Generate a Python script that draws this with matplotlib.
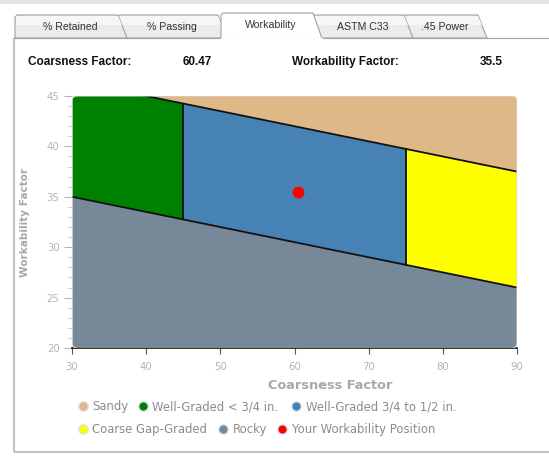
import matplotlib
matplotlib.use("Agg")
import matplotlib.pyplot as plt
from matplotlib.patches import Polygon, FancyBboxPatch, Rectangle
from matplotlib.ticker import MultipleLocator

# ---- data -------------------------------------------------------------
coarseness = [30, 45, 75, 90]                   # coarseness factor break points
upper_limit = [46.5, 44.25, 39.75, 37.5]        # sandy / well-graded boundary
lower_limit = [35.0, 32.75, 28.25, 26.0]        # well-graded / rocky boundary

zone_names = ["Sandy", "Well-Graded < 3/4 in.", "Well-Graded 3/4 to 1/2 in.",
              "Coarse Gap-Graded", "Rocky", "Your Workability Position"]
zone_colors = ["#DEB887", "#008000", "#4682B4", "#FFFF00", "#778899", "#FF0000"]

position_cf = 60.47
position_wf = 35.5

tab_labels = ["% Retained", "% Passing", "Workability", "ASTM C33", ".45 Power"]
active_tab = "Workability"

x_ticks = [30, 40, 50, 60, 70, 80, 90]
y_ticks = [20, 25, 30, 35, 40, 45]

# ---- figure -----------------------------------------------------------
W, H = 549, 459
fig = plt.figure(figsize=(W / 100, H / 100), dpi=100)
fig.patch.set_facecolor("white")

# page layer in pixel coordinates
ui = fig.add_axes([0, 0, 1, 1], zorder=0)
ui.set_xlim(0, W)
ui.set_ylim(H, 0)
ui.axis("off")

# faint strip along the top
ui.add_patch(Rectangle((0, 0), W, 4, facecolor="#e4e4e4", edgecolor="none"))

# panel border
border = "#c4c4c4"
ui.plot([14, 14], [38, 452], color=border, lw=1.6, solid_capstyle="butt")
ui.plot([14, W], [452, 452], color=border, lw=1.6, solid_capstyle="butt")
ui.plot([14, W], [38, 38], color="#a8a8a8", lw=0.9)

# tabs: (left, right) at the top edge
tab_spans = [(15, 118), (118, 218), (221, 313), (313, 404), (404, 478)]
tab_items = list(zip(tab_labels, tab_spans))
for label, (l, r) in reversed(tab_items):
    if label == active_tab:
        continue
    top, bot = 15, 38
    pts = [(l, bot), (l, top + 2), (l + 2, top), (r, top), (r + 9, bot)]
    ui.add_patch(Polygon(pts, closed=True, facecolor="#ebebeb",
                         edgecolor="#a0a0a0", lw=0.8, zorder=2))
    ui.add_patch(Polygon([(l + 1, top + 1), (r, top + 1), (r + 4, top + 10), (l + 1, top + 10)],
                         closed=True, facecolor="#f6f6f6", edgecolor="none", zorder=2))
    ui.text((l + r + 8) / 2, 26.5, label, ha="center", va="center",
            fontsize=7.6, family="Liberation Sans", color="#333333", zorder=3)
for label, (l, r) in tab_items:
    if label != active_tab:
        continue
    top, bot = 13, 38.5
    pts = [(l, bot), (l, top + 2), (l + 2, top), (r, top), (r + 9, bot)]
    ui.add_patch(Polygon(pts, closed=True, facecolor="white",
                         edgecolor="#a0a0a0", lw=0.8, zorder=4))
    ui.plot([l + 0.6, r + 8.5], [38.6, 38.6], color="white", lw=1.6, zorder=5)
    ui.text((l + r + 8) / 2, 25.5, label, ha="center", va="center",
            fontsize=7.6, family="Liberation Sans", color="#333333", zorder=6)

# summary row
info_kw = dict(fontsize=8.5, family="Liberation Sans", fontweight="bold",
               color="#111111", va="center")
ui.text(28, 62, "Coarsness Factor:", **info_kw)
ui.text(183, 62, f"{position_cf:.2f}", **info_kw)
ui.text(292, 62, "Workability Factor:", **info_kw)
ui.text(480, 62, f"{position_wf:g}", **info_kw)

# ---- chart ------------------------------------------------------------
x0, x1, y0, y1 = 72, 517, 96, 348
ax = fig.add_axes([x0 / W, 1 - y1 / H, (x1 - x0) / W, (y1 - y0) / H], zorder=2)
ax.set_facecolor("none")
ax.set_xlim(30, 90)
ax.set_ylim(20, 45)

clip = FancyBboxPatch((0, 0), 1, 1, boxstyle="round,pad=0,rounding_size=0.012",
                      transform=ax.transAxes, mutation_aspect=(x1 - x0) / (y1 - y0),
                      facecolor="none", edgecolor="#d2d2d2", lw=0.8, zorder=5)
ax.add_patch(clip)

fills = [
    ax.fill_between(coarseness, upper_limit, 60, color=zone_colors[0], lw=0),
    ax.fill_between(coarseness[0:2], lower_limit[0:2], upper_limit[0:2], color=zone_colors[1], lw=0),
    ax.fill_between(coarseness[1:3], lower_limit[1:3], upper_limit[1:3], color=zone_colors[2], lw=0),
    ax.fill_between(coarseness[2:4], lower_limit[2:4], upper_limit[2:4], color=zone_colors[3], lw=0),
    ax.fill_between(coarseness, 0, lower_limit, color=zone_colors[4], lw=0),
]
for f in fills:
    f.set_clip_path(clip)

edge_kw = dict(color="#111111", lw=1.3, zorder=3)
ax.plot(coarseness, upper_limit, **edge_kw)
ax.plot(coarseness, lower_limit, **edge_kw)
for i in (1, 2):
    ax.plot([coarseness[i], coarseness[i]], [lower_limit[i], upper_limit[i]], **edge_kw)

ax.plot(position_cf, position_wf, "o", color=zone_colors[5], ms=8.5, mec="none", zorder=6)

for s in ("top", "right", "left"):
    ax.spines[s].set_visible(False)
ax.spines["bottom"].set_color("#111111")
ax.spines["bottom"].set_linewidth(1.2)

ax.set_xticks(x_ticks)
ax.set_yticks(y_ticks)
ax.yaxis.set_minor_locator(MultipleLocator(1))
ax.tick_params(axis="x", colors="#555555", labelcolor="#b4b4b4", labelsize=7.3,
               length=4, width=0.8, pad=6)
ax.tick_params(axis="y", which="major", colors="#b4b4b4", labelcolor="#b4b4b4",
               labelsize=7.3, length=6, width=0.8, pad=3)
ax.tick_params(axis="y", which="minor", colors="#c4c4c4", length=3, width=0.6)

ax.set_xlabel("Coarsness Factor", fontsize=9.3, fontweight="bold", color="#a8a8a8")
ax.xaxis.set_label_coords((330 - x0) / (x1 - x0), -(379 - y1) / (y1 - y0))
ax.set_ylabel("Workability Factor", fontsize=7.6, fontweight="bold", color="#a8a8a8",
              va="center")
ax.yaxis.set_label_coords(-(72 - 25) / (x1 - x0), 0.5)

# ---- legend -----------------------------------------------------------
legend_slots = [(83, 406), (143, 406), (296, 406), (83, 429), (223, 429), (282, 429)]
for name, color, (lx, ly) in zip(zone_names, zone_colors, legend_slots):
    ui.plot(lx, ly, "o", ms=6.8, color=color, mec="#d8e4ee", mew=0.9, zorder=3)
    ui.text(lx + 9.5, ly + 0.5, name, fontsize=8.4, color="#8c8c8c",
            va="center", ha="left", zorder=3)

fig.savefig("out.png", dpi=100, facecolor="white")
